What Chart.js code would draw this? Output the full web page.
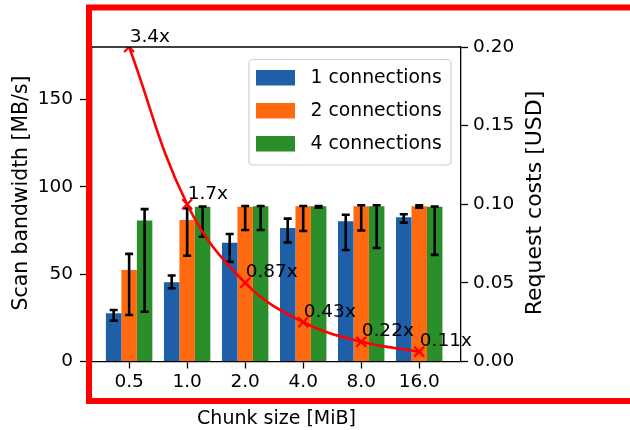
<!DOCTYPE html>
<html>
<head>
<meta charset="utf-8">
<script src="https://cdn.jsdelivr.net/npm/chart.js@4.4.0/dist/chart.umd.min.js"></script>
<style>
html, body { margin: 0; padding: 0; background: #fff; }
#wrap { width: 630px; height: 430px; position: relative; }
</style>
</head>
<body>
<div id="wrap"><canvas id="chart"></canvas></div>
<script>
// ===== Data =====
const chunkSizes = ['0.5', '1.0', '2.0', '4.0', '8.0', '16.0'];
const seriesNames = ['1 connections', '2 connections', '4 connections'];

const bw1 = [27.6, 45.4, 68.0, 76.4, 80.3, 82.6];
const bw2 = [52.4, 81.0, 88.5, 88.8, 88.8, 88.8];
const bw4 = [80.7, 88.5, 88.8, 88.8, 88.8, 88.5];

// error bars (lower / upper ends)
const err1Low  = [23.4, 41.9, 57.0, 68.2, 63.8, 79.5];
const err1High = [29.5, 49.2, 73.0, 81.8, 84.0, 84.3];
const err2Low  = [26.6, 60.5, 75.3, 74.7, 75.0, 88.0];
const err2High = [61.6, 87.8, 89.0, 89.0, 89.4, 89.4];
const err4Low  = [28.5, 71.4, 75.3, 88.0, 65.0, 61.0];
const err4High = [87.2, 88.7, 89.0, 89.0, 89.4, 88.7];

const costs = [0.2, 0.1, 0.05, 0.025, 0.0125, 0.00625];
const costLabels = ['3.4x', '1.7x', '0.87x', '0.43x', '0.22x', '0.11x'];

const leftTicks = [0, 50, 100, 150];
const rightTicks = [0, 0.05, 0.10, 0.15, 0.20];

const colors = ['#1f5fa8', '#ff6a10', '#2a8f2a'];
const FONT = 'DejaVu Sans';

Chart.defaults.font.family = FONT;
Chart.defaults.font.size = 18.5;
Chart.defaults.color = '#000';

const toPoints = arr => arr.map((v, i) => ({ x: i, y: v }));
const errs = [[err1Low, err1High], [err2Low, err2High], [err4Low, err4High]];

// ===== Plugins =====
const errorBars = {
    id: 'errorBars',
    afterDatasetDraw(chart, args) {
        if (args.index > 2) return;
        const [lo, hi] = errs[args.index];
        const y = chart.scales.y;
        const ctx = chart.ctx;
        ctx.save();
        ctx.strokeStyle = '#000';
        ctx.lineWidth = 2.6;
        args.meta.data.forEach((bar, i) => {
            const y0 = y.getPixelForValue(lo[i]);
            const y1 = y.getPixelForValue(hi[i]);
            ctx.beginPath();
            ctx.moveTo(bar.x, y0); ctx.lineTo(bar.x, y1);
            ctx.moveTo(bar.x - 4, y0); ctx.lineTo(bar.x + 4, y0);
            ctx.moveTo(bar.x - 4, y1); ctx.lineTo(bar.x + 4, y1);
            ctx.stroke();
        });
        ctx.restore();
    }
};

function vText(ctx, text, x, y, size) {
    ctx.save();
    ctx.translate(x, y);
    ctx.rotate(-Math.PI / 2);
    ctx.font = size + 'px "' + FONT + '"';
    ctx.fillStyle = '#000';
    ctx.textAlign = 'center';
    ctx.textBaseline = 'middle';
    ctx.fillText(text, 0, 0);
    ctx.restore();
}

const decorations = {
    id: 'decorations',
    afterDraw(chart) {
        const ctx = chart.ctx;
        const a = chart.chartArea;
        ctx.save();

        // cost labels next to points
        const meta = chart.getDatasetMeta(3);
        ctx.font = '18.5px "' + FONT + '"';
        ctx.fillStyle = '#000';
        ctx.textAlign = 'left';
        ctx.textBaseline = 'alphabetic';
        meta.data.forEach((pt, i) => {
            ctx.fillText(costLabels[i], pt.x + 0.5, pt.y - 5.5);
        });

        // top spine
        ctx.strokeStyle = '#000';
        ctx.lineWidth = 1.3;
        ctx.beginPath();
        ctx.moveTo(a.left, a.top); ctx.lineTo(a.right, a.top);
        ctx.stroke();

        // legend
        const lx = 249, ly = 59.5, lw = 202, lh = 105.5;
        ctx.fillStyle = 'rgba(255,255,255,0.85)';
        ctx.strokeStyle = '#cfcfcf';
        ctx.lineWidth = 1.2;
        ctx.beginPath();
        ctx.roundRect(lx, ly, lw, lh, 4);
        ctx.fill();
        ctx.stroke();
        ctx.font = '18.8px "' + FONT + '"';
        seriesNames.forEach((name, i) => {
            const cy = ly + 18 + i * 33;
            ctx.fillStyle = colors[i];
            ctx.fillRect(lx + 7, cy - 7.5, 39, 15.5);
            ctx.fillStyle = '#000';
            ctx.textBaseline = 'middle';
            ctx.fillText(name, lx + 61.5, cy + 1);
        });

        // axis titles (read bottom to top, like the reference)
        vText(ctx, 'Scan bandwidth [MB/s]', 22, 193, 20.4);
        vText(ctx, 'Request costs [USD]', 535, 203, 22);

        // red highlight frame
        ctx.strokeStyle = '#ff0000';
        ctx.lineWidth = 6;
        ctx.strokeRect(89, 7.5, 600, 393.5);
        ctx.restore();
    }
};

// ===== Chart =====
const ctx = document.getElementById('chart').getContext('2d');
const chart = new Chart(ctx, {
    type: 'bar',
    data: {
        datasets: [
            { label: seriesNames[0], data: toPoints(bw1), backgroundColor: colors[0], order: 1 },
            { label: seriesNames[1], data: toPoints(bw2), backgroundColor: colors[1], order: 1 },
            { label: seriesNames[2], data: toPoints(bw4), backgroundColor: colors[2], order: 1 },
            {
                type: 'line',
                label: 'Request costs',
                data: toPoints(costs),
                yAxisID: 'y1',
                borderColor: '#ff0000',
                backgroundColor: '#ff0000',
                borderWidth: 2.6,
                tension: 0.4,
                pointStyle: 'crossRot',
                pointRadius: 7,
                pointBorderWidth: 2.2,
                pointBorderColor: '#ff0000',
                clip: { left: false, top: 0, right: false, bottom: false },
                order: 0
            }
        ]
    },
    options: {
        responsive: true,
        maintainAspectRatio: false,
        animation: false,
        layout: { padding: { top: 47, left: 0, right: 0, bottom: 0 } },
        datasets: {
            bar: { categoryPercentage: 0.8, barPercentage: 1.0 }
        },
        plugins: {
            legend: { display: false },
            tooltip: { enabled: false }
        },
        scales: {
            x: {
                type: 'linear',
                min: -0.64,
                max: 5.72,
                offset: false,
                afterBuildTicks: s => { s.ticks = chunkSizes.map((_, i) => ({ value: i })); },
                afterFit: s => { s.height = 68.5; },
                ticks: { callback: v => chunkSizes[v], padding: 3, maxRotation: 0, autoSkip: false },
                grid: { drawOnChartArea: false, tickLength: 7, tickColor: '#000', tickWidth: 1.3, offset: false },
                border: { color: '#000', width: 1.3 },
                title: { display: true, text: 'Chunk size [MiB]', font: { size: 19 }, padding: { top: 0, bottom: 0 } }
            },
            y: {
                position: 'left',
                min: 0,
                max: 180,
                afterBuildTicks: s => { s.ticks = leftTicks.map(v => ({ value: v })); },
                afterFit: s => { s.width = 92; },
                ticks: { padding: 7 },
                grid: { drawOnChartArea: false, tickLength: 12, tickColor: '#000', tickWidth: 1.3 },
                border: { color: '#000', width: 1.3 }
            },
            y1: {
                position: 'right',
                min: 0,
                max: 0.2,
                afterBuildTicks: s => { s.ticks = rightTicks.map(v => ({ value: v })); },
                afterFit: s => { s.width = 169; },
                ticks: { padding: 5, callback: v => v.toFixed(2) },
                grid: { drawOnChartArea: false, tickLength: 7, tickColor: '#000', tickWidth: 1.3 },
                border: { color: '#000', width: 1.3 }
            }
        }
    },
    plugins: [errorBars, decorations]
});
</script>
</body>
</html>
